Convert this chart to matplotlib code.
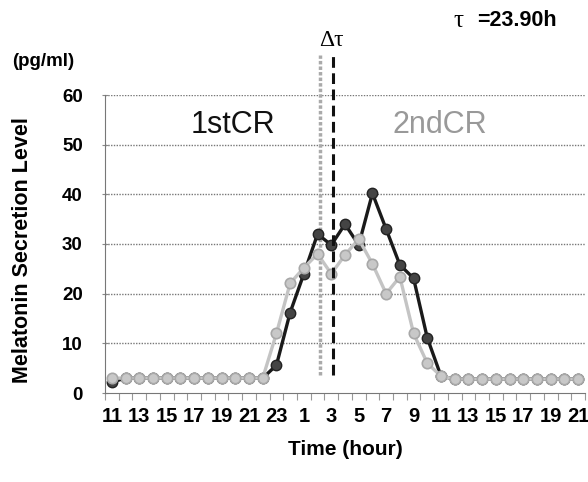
import matplotlib
matplotlib.use("Agg")
import matplotlib.pyplot as plt
import numpy as np

# ---- data ----
hours = [11, 12, 13, 14, 15, 16, 17, 18, 19, 20, 21, 22, 23, 0, 1, 2, 3, 4, 5, 6, 7,
         8, 9, 10, 11, 12, 13, 14, 15, 16, 17, 18, 19, 20, 21]
first_cr = [2.2, 3, 3, 3, 3, 3, 3, 3, 3, 3, 3, 3, 5.6, 16.2, 24.0, 32.0, 29.8, 34.0, 29.8,
            40.2, 33.0, 25.8, 23.1, 11.1, 3.4, 2.8, 2.8, 2.8, 2.8, 2.8, 2.8, 2.8, 2.8, 2.8, 2.8]
second_cr = [3, 3, 3, 3, 3, 3, 3, 3, 3, 3, 3, 3, 12.0, 22.1, 25.2, 28.0, 24.0, 27.8, 31.0,
             26.0, 20.0, 23.4, 12.0, 6.0, 3.4, 2.8, 2.8, 2.8, 2.8, 2.8, 2.8, 2.8, 2.8, 2.8, 2.8]
yticks = [0, 10, 20, 30, 40, 50, 60]
peak_2nd = 15.15   # category position of 2nd CR marker line
peak_1st = 16.1    # category position of 1st CR marker line

plt.rcParams['font.family'] = ['Liberation Sans', 'DejaVu Sans']

fig = plt.figure(figsize=(5.88, 4.82), dpi=100)
ax = fig.add_axes([105/588, 1-393/482, 480/588, 298/482])

x = np.arange(len(hours))
ax.set_xlim(-0.5, len(hours) - 0.5)
ax.set_ylim(0, 60)

# grid
for yv in yticks[1:]:
    ax.axhline(yv, color='#777777', lw=1.0, ls=(0, (1, 1)), zorder=1)

# series
ax.plot(x, first_cr, color='#1a1a1a', lw=2.4, marker='o', ms=7.5,
        mfc='#444444', mec='#222222', mew=1.0, zorder=3)
ax.plot(x, second_cr, color='#c4c4c4', lw=2.4, marker='o', ms=7.5,
        mfc='#c8c8c8', mec='#a8a8a8', mew=1.2, zorder=4)

# vertical markers
ax.plot([peak_2nd, peak_2nd], [3.6, 68], color='#aaaaaa', lw=2.5,
        ls=(0, (1, 0.6)), clip_on=False, zorder=2)
ax.plot([peak_1st, peak_1st], [3.6, 68], color='#111111', lw=2.2,
        ls=(0, (3.5, 1.8)), clip_on=False, zorder=5)

# spines
for s in ['top', 'right']:
    ax.spines[s].set_visible(False)
ax.spines['left'].set_color('#777777')
ax.spines['left'].set_linestyle((0, (1, 1)))
ax.spines['bottom'].set_color('#777777')
ax.spines['bottom'].set_linestyle((0, (1, 1)))

# ticks
ax.set_yticks(yticks)
ax.set_yticklabels([str(v) for v in yticks], fontsize=13.5, fontweight='bold')
ax.tick_params(axis='y', length=4, direction='inout', color='#888888', pad=14)

label_idx = list(range(0, len(hours), 2))
ax.set_xticks(label_idx)
ax.set_xticklabels([str(hours[i]) for i in label_idx], fontsize=14.5, fontweight='bold')
ax.tick_params(axis='x', which='major', length=0, pad=10)
ax.set_xticks(np.arange(-0.5, len(hours), 1), minor=True)
ax.tick_params(axis='x', which='minor', length=5, direction='out', color='#999999', width=0.8)

ax.set_ylabel('Melatonin Secretion Level', fontsize=15.5, fontweight='bold')
ax.yaxis.set_label_coords(-0.15, 0.48)
ax.set_xlabel('Time (hour)', fontsize=15, fontweight='bold', labelpad=10)

# annotations
ax.text(8.8, 54, '1stCR', fontsize=22, color='#111111', ha='center', va='center')
ax.text(23.9, 54, '2ndCR', fontsize=22, color='#999999', ha='center', va='center')
fig.text(43/588, 1-62/482, '(pg/ml)', fontsize=13.5, fontweight='bold', ha='center', va='center')
fig.text(331/588, 1-40/482, 'Δτ', fontsize=17, family=['Liberation Serif', 'DejaVu Serif'],
         ha='center', va='center')
fig.text(453/588, 1-21/482, 'τ', fontsize=18, family=['Liberation Serif', 'DejaVu Serif'],
         ha='left', va='center')
fig.text(477/588, 1-21/482, '=23.90h', fontsize=15.5, fontweight='bold', ha='left', va='center')

fig.savefig('out.png', dpi=100)
